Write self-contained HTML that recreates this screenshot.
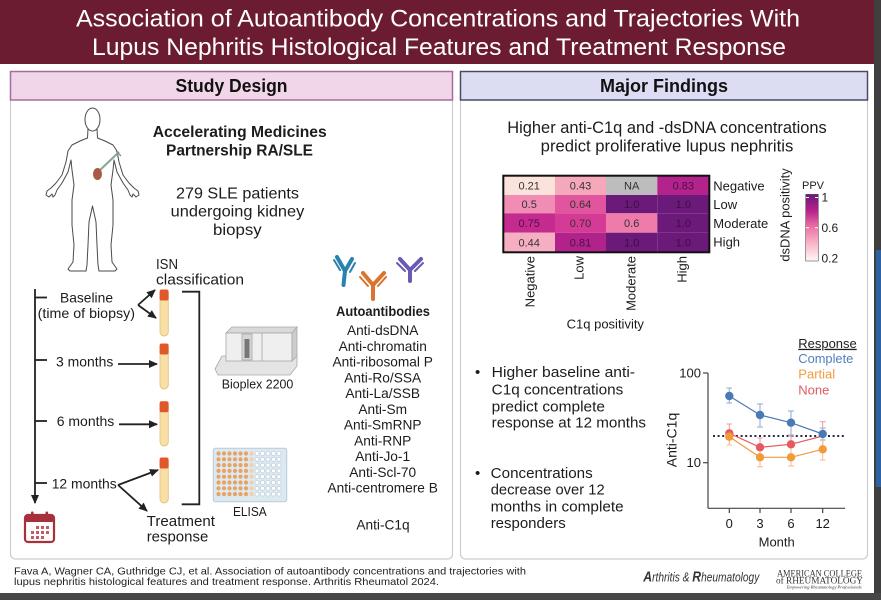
<!DOCTYPE html>
<html><head><meta charset="utf-8"><style>
html,body{margin:0;padding:0;background:#fff;overflow:hidden;width:881px;height:600px}
svg{display:block}
</style></head><body>
<svg width="881" height="600" viewBox="0 0 881 600" xmlns="http://www.w3.org/2000/svg" font-family="'Liberation Sans', Arial, sans-serif">
<defs>
<marker id="ah" markerWidth="9" markerHeight="9" refX="8" refY="4.5" orient="auto" markerUnits="userSpaceOnUse"><path d="M0,0.5 L9,4.5 L0,8.5 z" fill="#222"/></marker>
<linearGradient id="ppv" x1="0" y1="0" x2="0" y2="1">
<stop offset="0" stop-color="#6a1878"/><stop offset="0.25" stop-color="#b8228b"/><stop offset="0.5" stop-color="#ee74a8"/><stop offset="0.75" stop-color="#f8b9c9"/><stop offset="1" stop-color="#fff8f4"/>
</linearGradient>
</defs>
<rect x="0" y="0" width="881" height="600" fill="#fff"/>
<!-- header -->
<rect x="0" y="0" width="874" height="64" fill="#6c1c31"/>
<text x="76" y="26.5" font-size="24" fill="#fff" textLength="724" lengthAdjust="spacingAndGlyphs">Association of Autoantibody Concentrations and Trajectories With</text>
<text x="92" y="55" font-size="24" fill="#fff" textLength="694" lengthAdjust="spacingAndGlyphs">Lupus Nephritis Histological Features and Treatment Response</text>
<!-- edges -->
<rect x="874" y="0" width="7" height="600" fill="#3f3f3f"/>
<rect x="876" y="250" width="5" height="237" fill="#2f62a3"/>
<rect x="0" y="593" width="881" height="7" fill="#474747"/>

<!-- panels -->
<rect x="10.5" y="92" width="442" height="467" rx="5" fill="#fff" stroke="#cdcdcd" stroke-width="1.2"/>
<rect x="10.5" y="71.5" width="442" height="28.5" fill="#f1d5e9" stroke="#a86b9d" stroke-width="1.5"/>
<text x="231.5" y="92" font-size="18" font-weight="bold" fill="#111" text-anchor="middle" textLength="112" lengthAdjust="spacingAndGlyphs">Study Design</text>
<rect x="460.5" y="92" width="407" height="467" rx="5" fill="#fff" stroke="#cdcdcd" stroke-width="1.2"/>
<rect x="460.5" y="71.5" width="407" height="28.5" fill="#dcdcf2" stroke="#4a4a66" stroke-width="1.5"/>
<text x="664" y="92" font-size="18" font-weight="bold" fill="#111" text-anchor="middle" textLength="128" lengthAdjust="spacingAndGlyphs">Major Findings</text>

<!-- human figure -->
<path d="M88,129 L87.5,138 L80,141 L72,145 L68,151 L66,162 L62,175 L56,183 L51,188 L47,191 L46,195 L49,197 L52,194 L53,197 L55,195 L57,190 L62,183 L68,172 L71,160 L72,170 L74,185 L72,200 L72,225 L74,245 L73,262 L68,269 L70,271 L86,271 L87,265 L88,245 L89,222 L92.5,206 L96,222 L97,245 L98,265 L99,271 L115,271 L117,269 L112,262 L111,245 L113,225 L113,200 L111,185 L113,170 L114,160 L117,172 L123,183 L128,190 L130,195 L132,197 L133,194 L136,197 L139,195 L138,191 L134,188 L129,183 L123,175 L119,162 L117,151 L113,145 L105,141 L97.5,138 L97,129 Z" fill="#fff" stroke="#4a4a4a" stroke-width="1" stroke-linejoin="round"/>
<ellipse cx="92.5" cy="119.5" rx="7.5" ry="11.5" fill="#fff" stroke="#4a4a4a" stroke-width="1"/>
<line x1="99" y1="171" x2="119" y2="152" stroke="#8aa898" stroke-width="2.2"/>
<line x1="116" y1="151" x2="121" y2="156" stroke="#6a8a7a" stroke-width="1.2"/>
<ellipse cx="97.5" cy="174" rx="4.5" ry="6" fill="#a85a45"/>

<!-- left texts -->
<g fill="#1c1c1c">
<text x="152.7" y="137" font-size="16" font-weight="bold" textLength="174" lengthAdjust="spacingAndGlyphs">Accelerating Medicines</text>
<text x="166" y="155.5" font-size="16" font-weight="bold" textLength="147" lengthAdjust="spacingAndGlyphs">Partnership RA/SLE</text>
<text x="176" y="198.3" font-size="16" textLength="123" lengthAdjust="spacingAndGlyphs">279 SLE patients</text>
<text x="170.7" y="216.6" font-size="16" textLength="133.6" lengthAdjust="spacingAndGlyphs">undergoing kidney</text>
<text x="213" y="234.9" font-size="16" textLength="48.7" lengthAdjust="spacingAndGlyphs">biopsy</text>
<text x="156" y="269" font-size="15" textLength="22" lengthAdjust="spacingAndGlyphs">ISN</text>
<text x="156" y="284.3" font-size="15" textLength="88" lengthAdjust="spacingAndGlyphs">classification</text>
<text x="60" y="302.7" font-size="14" textLength="53" lengthAdjust="spacingAndGlyphs">Baseline</text>
<text x="37.7" y="318" font-size="14" textLength="97.3" lengthAdjust="spacingAndGlyphs">(time of biopsy)</text>
<text x="56" y="366.7" font-size="14" textLength="57.3" lengthAdjust="spacingAndGlyphs">3 months</text>
<text x="56.7" y="426" font-size="14" textLength="57.6" lengthAdjust="spacingAndGlyphs">6 months</text>
<text x="51.7" y="488.3" font-size="14" textLength="65" lengthAdjust="spacingAndGlyphs">12 months</text>
<text x="146.7" y="526" font-size="15" textLength="68.3" lengthAdjust="spacingAndGlyphs">Treatment</text>
<text x="146.7" y="541.5" font-size="15" textLength="61.6" lengthAdjust="spacingAndGlyphs">response</text>
<text x="221.7" y="388.3" font-size="13" textLength="71.6" lengthAdjust="spacingAndGlyphs">Bioplex 2200</text>
<text x="233" y="516" font-size="13" textLength="33.7" lengthAdjust="spacingAndGlyphs">ELISA</text>
<text x="336" y="316" font-size="14" font-weight="bold" textLength="94" lengthAdjust="spacingAndGlyphs">Autoantibodies</text>
<g font-size="13.7" text-anchor="middle">
<text x="382.7" y="335">Anti-dsDNA</text>
<text x="382.7" y="350.8">Anti-chromatin</text>
<text x="382.7" y="366.5">Anti-ribosomal P</text>
<text x="382.7" y="382.3">Anti-Ro/SSA</text>
<text x="382.7" y="398.1">Anti-La/SSB</text>
<text x="382.7" y="413.9">Anti-Sm</text>
<text x="382.7" y="429.6">Anti-SmRNP</text>
<text x="382.7" y="445.4">Anti-RNP</text>
<text x="382.7" y="461.2">Anti-Jo-1</text>
<text x="382.7" y="476.9">Anti-Scl-70</text>
<text x="382.7" y="492.7">Anti-centromere B</text>
<text x="383" y="529.3">Anti-C1q</text>
</g>
</g>

<!-- timeline -->
<g stroke="#222" stroke-width="1.8" fill="none">
<line x1="35" y1="289" x2="35" y2="503" marker-end="url(#ah)"/>
<line x1="35" y1="297.5" x2="47" y2="297.5"/>
<line x1="35" y1="360" x2="47" y2="360"/>
<line x1="35" y1="421" x2="47" y2="421"/>
<line x1="35" y1="483" x2="47" y2="483"/>
<line x1="138" y1="305" x2="155" y2="290" marker-end="url(#ah)"/>
<line x1="138" y1="305" x2="156" y2="318" marker-end="url(#ah)"/>
<line x1="118" y1="364" x2="157" y2="364" marker-end="url(#ah)"/>
<line x1="119" y1="424.3" x2="157" y2="424.3" marker-end="url(#ah)"/>
<line x1="118" y1="485" x2="158" y2="470" marker-end="url(#ah)"/>
<line x1="118" y1="485" x2="147" y2="511" marker-end="url(#ah)"/>
<path d="M182,291.7 H199.3 V504.3 H181.7"/>
</g>

<!-- tubes -->
<g>
<rect x="160" y="290" width="8.3" height="46" rx="4" fill="#f7dfa5" stroke="#e2bf78" stroke-width="0.8"/>
<rect x="159.6" y="289.5" width="9" height="11" rx="2" fill="#e0582a"/>
<rect x="160" y="344" width="8.3" height="45" rx="4" fill="#f7dfa5" stroke="#e2bf78" stroke-width="0.8"/>
<rect x="159.6" y="343.5" width="9" height="11" rx="2" fill="#e0582a"/>
<rect x="160" y="401.7" width="8.3" height="44.3" rx="4" fill="#f7dfa5" stroke="#e2bf78" stroke-width="0.8"/>
<rect x="159.6" y="401.2" width="9" height="11" rx="2" fill="#e0582a"/>
<rect x="160" y="458" width="8.3" height="45" rx="4" fill="#f7dfa5" stroke="#e2bf78" stroke-width="0.8"/>
<rect x="159.6" y="457.5" width="9" height="11" rx="2" fill="#e0582a"/>
</g>

<!-- calendar -->
<g>
<rect x="25" y="515" width="29" height="27" rx="3" fill="#fff" stroke="#a7313b" stroke-width="2.2"/>
<rect x="25" y="515" width="29" height="7" rx="2" fill="#a7313b"/>
<rect x="31" y="511.5" width="2.6" height="6.5" rx="1" fill="#a7313b"/>
<rect x="45.5" y="511.5" width="2.6" height="6.5" rx="1" fill="#a7313b"/>
<g fill="#c55a62">
<rect x="36" y="526" width="3" height="3"/><rect x="41" y="526" width="3" height="3"/><rect x="46" y="526" width="3" height="3"/>
<rect x="31" y="531" width="3" height="3"/><rect x="36" y="531" width="3" height="3"/><rect x="41" y="531" width="3" height="3"/><rect x="46" y="531" width="3" height="3"/>
<rect x="31" y="536" width="3" height="3"/><rect x="36" y="536" width="3" height="3"/><rect x="41" y="536" width="3" height="3"/>
</g>
</g>

<!-- bioplex -->
<g stroke="#a8a8a8" stroke-width="0.8">
<polygon points="215,369 222,356 297,356 297,366 290,375 218,375" fill="#e4e4e4"/>
<polygon points="226,333 232,327 297,327 292,333" fill="#d9d9d9"/>
<rect x="226" y="333" width="66" height="28" fill="#efefef"/>
<polygon points="292,333 297,327 297,356 292,361" fill="#cdcdcd"/>
<rect x="242" y="334" width="10" height="26" fill="#d6d6d6"/>
<rect x="244.5" y="339" width="5" height="19" fill="#777" stroke="none"/>
<line x1="262" y1="333" x2="262" y2="361"/>
</g>

<!-- elisa plate -->
<g>
<rect x="213.3" y="448.3" width="73.4" height="53.4" rx="2" fill="#dde9f1" stroke="#b9cbd8" stroke-width="1"/>
<g id="wells"></g>
</g>

<!-- antibodies -->
<g stroke-linecap="round" fill="none">
<g stroke="#2a83ad">
<line x1="343.5" y1="285" x2="345" y2="271" stroke-width="4"/>
<line x1="345" y1="271" x2="337" y2="257" stroke-width="4"/>
<line x1="345" y1="271" x2="352" y2="259" stroke-width="4"/>
<line x1="340" y1="270" x2="334" y2="260" stroke-width="2"/>
<line x1="350" y1="272" x2="355" y2="263" stroke-width="2"/>
</g>
<g stroke="#d9742a">
<line x1="373" y1="299" x2="373" y2="285" stroke-width="4"/>
<line x1="373" y1="285" x2="363" y2="273" stroke-width="4"/>
<line x1="373" y1="285" x2="384" y2="273" stroke-width="4"/>
<line x1="368" y1="286" x2="360" y2="277" stroke-width="2"/>
<line x1="378" y1="286" x2="386" y2="277" stroke-width="2"/>
</g>
<g stroke="#6a5ab4">
<line x1="410" y1="281" x2="410" y2="270" stroke-width="4"/>
<line x1="410" y1="270" x2="400" y2="259" stroke-width="4"/>
<line x1="410" y1="270" x2="421" y2="259" stroke-width="4"/>
<line x1="405" y1="271" x2="397" y2="263" stroke-width="2"/>
<line x1="415" y1="271" x2="423" y2="263" stroke-width="2"/>
</g>
</g>

<!-- right panel -->
<g fill="#1c1c1c">
<text x="667" y="133" font-size="16.3" text-anchor="middle" textLength="319.4" lengthAdjust="spacingAndGlyphs">Higher anti-C1q and -dsDNA concentrations</text>
<text x="667" y="151.4" font-size="16.3" text-anchor="middle" textLength="252.6" lengthAdjust="spacingAndGlyphs">predict proliferative lupus nephritis</text>
</g>
<!-- heatmap -->
<g>
<rect x="503.3" y="175.7" width="51.7" height="19.3" fill="#fbe3dc"/>
<rect x="555" y="175.7" width="51" height="19.3" fill="#f5a8b9"/>
<rect x="606" y="175.7" width="51.3" height="19.3" fill="#bdbdbd"/>
<rect x="657.3" y="175.7" width="52" height="19.3" fill="#b3238b"/>
<rect x="503.3" y="195" width="51.7" height="18.3" fill="#f18cb4"/>
<rect x="555" y="195" width="51" height="18.3" fill="#e1559f"/>
<rect x="606" y="195" width="51.3" height="18.3" fill="#6c1a7a"/>
<rect x="657.3" y="195" width="52" height="18.3" fill="#6c1a7a"/>
<rect x="503.3" y="213.3" width="51.7" height="19.4" fill="#c52b8e"/>
<rect x="555" y="213.3" width="51" height="19.4" fill="#d53b96"/>
<rect x="606" y="213.3" width="51.3" height="19.4" fill="#ef7bab"/>
<rect x="657.3" y="213.3" width="52" height="19.4" fill="#6c1a7a"/>
<rect x="503.3" y="232.7" width="51.7" height="19.6" fill="#f6afc2"/>
<rect x="555" y="232.7" width="51" height="19.6" fill="#b1238a"/>
<rect x="606" y="232.7" width="51.3" height="19.6" fill="#6c1a7a"/>
<rect x="657.3" y="232.7" width="52" height="19.6" fill="#6c1a7a"/>
<rect x="503.3" y="175.7" width="206" height="76.6" fill="none" stroke="#111" stroke-width="2"/>
<g font-size="11" text-anchor="middle" fill="#333">
<text x="529.2" y="189.3">0.21</text><text x="580.5" y="189.3">0.43</text><text x="631.7" y="189.3">NA</text><text x="683.3" y="189.3" fill="#4a1048">0.83</text>
<text x="529.2" y="208.2">0.5</text><text x="580.5" y="208.2">0.64</text><text x="631.7" y="208.2" fill="#3c0e44">1.0</text><text x="683.3" y="208.2" fill="#3c0e44">1.0</text>
<text x="529.2" y="227" fill="#4a1048">0.75</text><text x="580.5" y="227">0.70</text><text x="631.7" y="227">0.6</text><text x="683.3" y="227" fill="#3c0e44">1.0</text>
<text x="529.2" y="246.5">0.44</text><text x="580.5" y="246.5" fill="#4a1048">0.81</text><text x="631.7" y="246.5" fill="#3c0e44">1.0</text><text x="683.3" y="246.5" fill="#3c0e44">1.0</text>
</g>
<g font-size="13" fill="#1c1c1c">
<text x="713.3" y="190.6">Negative</text>
<text x="713.3" y="209">Low</text>
<text x="713.3" y="228">Moderate</text>
<text x="713.3" y="246.3">High</text>
<text transform="translate(789.6,215) rotate(-90)" text-anchor="middle" textLength="93.3" lengthAdjust="spacingAndGlyphs">dsDNA positivity</text>
<text transform="translate(534.5,256) rotate(-90)" text-anchor="end">Negative</text>
<text transform="translate(583.6,256) rotate(-90)" text-anchor="end">Low</text>
<text transform="translate(635.3,256) rotate(-90)" text-anchor="end">Moderate</text>
<text transform="translate(686.3,256) rotate(-90)" text-anchor="end">High</text>
<text x="605.3" y="328.6" text-anchor="middle" textLength="77.3" lengthAdjust="spacingAndGlyphs">C1q positivity</text>
<text x="802" y="189" font-size="11">PPV</text>
<text x="821.5" y="201.5" font-size="12">1</text>
<text x="821.5" y="231.8" font-size="12">0.6</text>
<text x="821.5" y="262.3" font-size="12">0.2</text>
</g>
<rect x="805.7" y="194.3" width="12.6" height="66.7" fill="url(#ppv)" stroke="#555" stroke-width="0.6"/>
<g stroke="#fff" stroke-width="1">
<line x1="806" y1="197.5" x2="809" y2="197.5"/><line x1="815" y1="197.5" x2="818" y2="197.5"/>
<line x1="806" y1="227.7" x2="809" y2="227.7"/><line x1="815" y1="227.7" x2="818" y2="227.7"/>
</g>
</g>

<!-- bullets -->
<g fill="#1c1c1c" font-size="15">
<text x="475" y="377">•</text>
<text x="491.7" y="377" textLength="143.3" lengthAdjust="spacingAndGlyphs">Higher baseline anti-</text>
<text x="491.7" y="394.3" textLength="131.6" lengthAdjust="spacingAndGlyphs">C1q concentrations</text>
<text x="491.7" y="411.3" textLength="113.3" lengthAdjust="spacingAndGlyphs">predict complete</text>
<text x="491.7" y="427.6" textLength="154.3" lengthAdjust="spacingAndGlyphs">response at 12 months</text>
<text x="475" y="478">•</text>
<text x="490.7" y="478" textLength="102" lengthAdjust="spacingAndGlyphs">Concentrations</text>
<text x="490.7" y="494.6" textLength="114" lengthAdjust="spacingAndGlyphs">decrease over 12</text>
<text x="490.7" y="511.3" textLength="133" lengthAdjust="spacingAndGlyphs">months in complete</text>
<text x="490.7" y="528" textLength="75" lengthAdjust="spacingAndGlyphs">responders</text>
</g>

<!-- line chart -->
<g>
<g stroke="#444" stroke-width="1.2" fill="none">
<line x1="708" y1="373" x2="708" y2="508.3"/>
<line x1="708" y1="508.3" x2="845" y2="508.3"/>
<line x1="703" y1="373" x2="708" y2="373"/>
<line x1="703" y1="462.7" x2="708" y2="462.7"/>
<line x1="729.3" y1="508.3" x2="729.3" y2="513"/>
<line x1="760" y1="508.3" x2="760" y2="513"/>
<line x1="791" y1="508.3" x2="791" y2="513"/>
<line x1="822.7" y1="508.3" x2="822.7" y2="513"/>
</g>
<g font-size="13" fill="#1c1c1c">
<text x="701" y="377.5" text-anchor="end">100</text>
<text x="701" y="467" text-anchor="end">10</text>
<text x="729.3" y="528" text-anchor="middle">0</text>
<text x="760" y="528" text-anchor="middle">3</text>
<text x="791" y="528" text-anchor="middle">6</text>
<text x="822.7" y="528" text-anchor="middle">12</text>
<text x="776.7" y="546.5" text-anchor="middle">Month</text>
<text transform="translate(676.5,440) rotate(-90)" text-anchor="middle" font-size="14">Anti-C1q</text>
<text x="798.3" y="347.8" textLength="58.4" lengthAdjust="spacingAndGlyphs" text-decoration="underline">Response</text>
<text x="798.3" y="362.8" fill="#4f7fbf" textLength="55" lengthAdjust="spacingAndGlyphs">Complete</text>
<text x="798.3" y="378.5" fill="#f29b3f">Partial</text>
<text x="798.3" y="394.5" fill="#e05a63">None</text>
</g>
<line x1="713" y1="436" x2="845" y2="436" stroke="#2a2a48" stroke-width="2" stroke-dasharray="2,2.6"/>
<!-- error bars -->
<g stroke-width="1" fill="none">
<g stroke="#8fa9d2">
<path d="M729.3,388V403 M726.5,388H732 M726.5,403H732"/>
<path d="M760,404V427 M757,404H763 M757,427H763"/>
<path d="M791,411V435 M788,411H794 M788,435H794"/>
<path d="M822.7,428V440 M819.7,428H825.7 M819.7,440H825.7"/>
</g>
<g stroke="#ee9aa0">
<path d="M729.3,424V444 M726.5,424H732"/>
<path d="M760,438V455 M757,438H763"/>
<path d="M791,436V452 M788,436H794"/>
<path d="M822.7,421.7V448 M819.7,421.7H825.7"/>
</g>
<g stroke="#f6bf86">
<path d="M729.3,428V445 M726.5,445H732"/>
<path d="M760,447V466.7 M757,466.7H763"/>
<path d="M791,448V466 M788,466H794"/>
<path d="M822.7,438V460 M819.7,460H825.7"/>
</g>
</g>
<polyline points="729.3,396 760,415 791,422.7 822.7,434" fill="none" stroke="#4a79b5" stroke-width="1.2"/>
<polyline points="729.3,433.3 760,447.3 791,444.3 822.7,436" fill="none" stroke="#e55a60" stroke-width="1.2"/>
<polyline points="729.3,436.7 760,457.3 791,457.3 822.7,449.3" fill="none" stroke="#f29a3c" stroke-width="1.2"/>
<g fill="#4a79b5"><circle cx="729.3" cy="396" r="4.2"/><circle cx="760" cy="415" r="4.2"/><circle cx="791" cy="422.7" r="4.2"/><circle cx="822.7" cy="434" r="4.2"/></g>
<g fill="#e55a60"><circle cx="729.3" cy="433.3" r="4.2"/><circle cx="760" cy="447.3" r="4.2"/><circle cx="791" cy="444.3" r="4.2"/></g>
<g fill="#f29a3c"><circle cx="729.3" cy="436.7" r="4.2"/><circle cx="760" cy="457.3" r="4.2"/><circle cx="791" cy="457.3" r="4.2"/><circle cx="822.7" cy="449.3" r="4.2"/></g>
</g>

<!-- footer -->
<g fill="#222" font-size="10.5">
<text x="14" y="574.5" textLength="512" lengthAdjust="spacingAndGlyphs">Fava A, Wagner CA, Guthridge CJ, et al. Association of autoantibody concentrations and trajectories with</text>
<text x="14" y="585" textLength="425" lengthAdjust="spacingAndGlyphs">lupus nephritis histological features and treatment response. Arthritis Rheumatol 2024.</text>
</g>
<text x="643.3" y="581.5" font-size="12.5" font-style="italic" fill="#333" textLength="116" lengthAdjust="spacingAndGlyphs"><tspan font-size="15" font-weight="bold">A</tspan>rthritis &amp; <tspan font-size="15" font-weight="bold">R</tspan>heumatology</text>
<g font-family="'Liberation Serif', serif" fill="#333">
<text x="777" y="576.5" font-size="9" textLength="85" lengthAdjust="spacingAndGlyphs">AMERICAN COLLEGE</text>
<text x="776" y="583.5" font-size="9" textLength="87" lengthAdjust="spacingAndGlyphs">of RHEUMATOLOGY</text>
<text x="786.7" y="588.5" font-size="4.5" font-style="italic" textLength="75" lengthAdjust="spacingAndGlyphs">Empowering Rheumatology Professionals</text>
</g>

<!-- elisa wells -->
<g>
<g fill="#e9a262">
<circle cx="218.5" cy="453.5" r="2.1"/><circle cx="224" cy="453.5" r="2.1"/><circle cx="229.5" cy="453.5" r="2.1"/><circle cx="235" cy="453.5" r="2.1"/><circle cx="240.5" cy="453.5" r="2.1"/><circle cx="246" cy="453.5" r="2.1"/>
<circle cx="218.5" cy="459.3" r="2.1"/><circle cx="224" cy="459.3" r="2.1"/><circle cx="229.5" cy="459.3" r="2.1"/><circle cx="235" cy="459.3" r="2.1"/><circle cx="240.5" cy="459.3" r="2.1"/><circle cx="246" cy="459.3" r="2.1"/>
<circle cx="218.5" cy="465.1" r="2.1"/><circle cx="224" cy="465.1" r="2.1"/><circle cx="229.5" cy="465.1" r="2.1"/><circle cx="235" cy="465.1" r="2.1"/><circle cx="240.5" cy="465.1" r="2.1"/><circle cx="246" cy="465.1" r="2.1"/>
<circle cx="218.5" cy="470.9" r="2.1"/><circle cx="224" cy="470.9" r="2.1"/><circle cx="229.5" cy="470.9" r="2.1"/><circle cx="235" cy="470.9" r="2.1"/><circle cx="240.5" cy="470.9" r="2.1"/><circle cx="246" cy="470.9" r="2.1"/>
<circle cx="218.5" cy="476.7" r="2.1"/><circle cx="224" cy="476.7" r="2.1"/><circle cx="229.5" cy="476.7" r="2.1"/><circle cx="235" cy="476.7" r="2.1"/><circle cx="240.5" cy="476.7" r="2.1"/><circle cx="246" cy="476.7" r="2.1"/>
<circle cx="218.5" cy="482.5" r="2.1"/><circle cx="224" cy="482.5" r="2.1"/><circle cx="229.5" cy="482.5" r="2.1"/><circle cx="235" cy="482.5" r="2.1"/><circle cx="240.5" cy="482.5" r="2.1"/><circle cx="246" cy="482.5" r="2.1"/>
<circle cx="218.5" cy="488.3" r="2.1"/><circle cx="224" cy="488.3" r="2.1"/><circle cx="229.5" cy="488.3" r="2.1"/><circle cx="235" cy="488.3" r="2.1"/><circle cx="240.5" cy="488.3" r="2.1"/><circle cx="246" cy="488.3" r="2.1"/>
<circle cx="218.5" cy="494.1" r="2.1"/><circle cx="224" cy="494.1" r="2.1"/><circle cx="229.5" cy="494.1" r="2.1"/><circle cx="235" cy="494.1" r="2.1"/><circle cx="240.5" cy="494.1" r="2.1"/><circle cx="246" cy="494.1" r="2.1"/>
</g>
<g fill="#f3cfa9">
<circle cx="251.5" cy="453.5" r="2.1"/><circle cx="251.5" cy="459.3" r="2.1"/><circle cx="251.5" cy="465.1" r="2.1"/><circle cx="251.5" cy="470.9" r="2.1"/><circle cx="251.5" cy="476.7" r="2.1"/><circle cx="251.5" cy="482.5" r="2.1"/><circle cx="251.5" cy="488.3" r="2.1"/><circle cx="251.5" cy="494.1" r="2.1"/>
</g>
<g fill="#fff" stroke="#b4c4d2" stroke-width="0.6">
<circle cx="257" cy="453.5" r="2"/><circle cx="262.5" cy="453.5" r="2"/><circle cx="268" cy="453.5" r="2"/><circle cx="273.5" cy="453.5" r="2"/><circle cx="279" cy="453.5" r="2"/>
<circle cx="257" cy="459.3" r="2"/><circle cx="262.5" cy="459.3" r="2"/><circle cx="268" cy="459.3" r="2"/><circle cx="273.5" cy="459.3" r="2"/><circle cx="279" cy="459.3" r="2"/>
<circle cx="257" cy="465.1" r="2"/><circle cx="262.5" cy="465.1" r="2"/><circle cx="268" cy="465.1" r="2"/><circle cx="273.5" cy="465.1" r="2"/><circle cx="279" cy="465.1" r="2"/>
<circle cx="257" cy="470.9" r="2"/><circle cx="262.5" cy="470.9" r="2"/><circle cx="268" cy="470.9" r="2"/><circle cx="273.5" cy="470.9" r="2"/><circle cx="279" cy="470.9" r="2"/>
<circle cx="257" cy="476.7" r="2"/><circle cx="262.5" cy="476.7" r="2"/><circle cx="268" cy="476.7" r="2"/><circle cx="273.5" cy="476.7" r="2"/><circle cx="279" cy="476.7" r="2"/>
<circle cx="257" cy="482.5" r="2"/><circle cx="262.5" cy="482.5" r="2"/><circle cx="268" cy="482.5" r="2"/><circle cx="273.5" cy="482.5" r="2"/><circle cx="279" cy="482.5" r="2"/>
<circle cx="257" cy="488.3" r="2"/><circle cx="262.5" cy="488.3" r="2"/><circle cx="268" cy="488.3" r="2"/><circle cx="273.5" cy="488.3" r="2"/><circle cx="279" cy="488.3" r="2"/>
<circle cx="257" cy="494.1" r="2"/><circle cx="262.5" cy="494.1" r="2"/><circle cx="268" cy="494.1" r="2"/><circle cx="273.5" cy="494.1" r="2"/><circle cx="279" cy="494.1" r="2"/>
</g>
</g>
</svg>
</body></html>
